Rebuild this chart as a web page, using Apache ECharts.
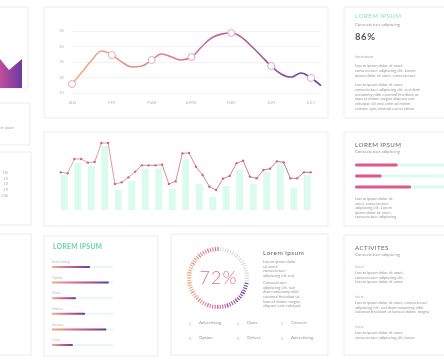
<!DOCTYPE html>
<html><head><meta charset="utf-8">
<script src="https://cdn.jsdelivr.net/npm/echarts@6/dist/echarts.min.js"></script>
<style>html,body{margin:0;padding:0;background:#fff}#c{width:444px;height:360px}</style>
</head><body><div id="c"></div>
<script>
// ---- data ----
const monthLabels = ['JAN','FEV','MAR','APRIL','MAY','JUN','JULY'];
const stepsPerMonth = 4;
// curve samples read every quarter month (JAN ... JULY, plus a short tail)
const lineValues = [15.8,23.5,31.3,37.1,34.5,30,26.8,27.4,31.3,35.2,33.2,31.3,33.2,39.7,45.5,48,48.7,46.1,40.3,33.9,27.4,22.3,20.3,22.9,19.7,14.8];
const barValues = [105,142,133,192,60,87,125,125,62,152,78,40,72,120,78,115,140,67,105];
const barLineValues = [113,110,153,153,142,144,201,201,78,83,98,115,134,134,134,136,78,86,170,171,130,105,70,60,94,102,140,148,100,95,120,124,146,143,95,95,113,113];
const progressLabels = ['Advertising','Option','Done','Orders','Income','Level'];
const progressValues = [62,93,39,54,89,34];
const skillValues = [48,30,63];
const gaugeValue = 72;
const legendItems = ['Advertising','Done','Convert','Option','Orders','Advertising'];
const sideNumbers = ['1%','25','32','19','23k'];

const FONT = 'Lato, "Open Sans", sans-serif';
const chart = echarts.init(document.getElementById('c'), null, {renderer:'canvas'});
const G = echarts.graphic;
const sp = s => s.split('').join('\u200A');

const lineCats = lineValues.map((_,i)=> i%stepsPerMonth===0 ? (monthLabels[i/stepsPerMonth]||'') : '');

const gfx = [];
function panel(x,y,w,h){ gfx.push({type:'rect', z:-5, shape:{x,y,width:w,height:h}, style:{fill:'none', stroke:'#ececec', lineWidth:1}}); }
function txt(x,y,text,size,color,extra){ gfx.push({type:'text', z:50, x, y, style:Object.assign({text, fontSize:size, fontFamily:FONT, fill:color, verticalAlign:'middle', align:'left'}, extra||{})}); }
function para(x,y,lines,size,lh,color,align){ gfx.push({type:'text', z:50, x, y:y-lh/2, style:{text:lines.join('\n'), fontSize:size, lineHeight:lh, fontFamily:FONT, fill:color, verticalAlign:'top', align:align||'left'}}); }

// panels
panel(-2,7,30,81); panel(-2,103,32,42); panel(-2,152,33,73); panel(-2,234,33,121);
panel(44,7,284,111); panel(44,132,284,94);
panel(344,7,110,111); panel(344,132,110,94); panel(344,235,110,120);
panel(44,236,114,120); panel(171,234,157,121);

// left decorative shape
gfx.push({type:'polygon', z:1, shape:{points:[[0,59],[9,70],[22,59],[22,88],[0,88]]},
  style:{fill:new G.LinearGradient(0,0,1,0,[{offset:0,color:'#c24b9e'},{offset:1,color:'#6a3aa0'}])}});
txt(14,128,'lorem ipsum',3.5,'#aaa',{align:'right'});
para(8,173,sideNumbers,4,5.6,'#aaa','right');

// right panel 1
txt(355,16,sp('LOREM IPSUM'),6.2,'#86dcc2');
txt(355,25,'Consectetuer adipiscing',4.3,'#999');
txt(355,37,sp('86%'),9.5,'#555',{fontWeight:'bold'});
txt(355,57,'lorem ipsum',3.4,'#aaa');
para(355,66,['Lorem ipsum dolor sit amet,','consectetuer adipiscing elit. Lorem','ipsum dolor sit amet, consectetuer'],4,4.7,'#999');
para(355,85,['Lorem ipsum dolor sit amet,','consectetuer adipiscing elit, sed diam','nonummy nibh euismod tincidunt ut','laoreet dolore magna aliquam erat','volutpat. Ut wisi enim ad minim','veniam, quis nostrud exerci tation'],4,4.7,'#999');

// right panel 2
txt(355,145,sp('LOREM IPSUM'),6.2,'#666');
txt(355,151.5,'Consectetuer adipiscing',4.3,'#999');
para(355,199,['Lorem ipsum dolor sit','amet, consectetuer','adipiscing elit. Lorem','ipsum dolor sit amet,','consectetuer adipiscing'],4,4.5,'#999');

// right panel 3
txt(355,248,sp('ACTIVITES'),6.2,'#666');
txt(355,254.5,'Consectetuer adipiscing',4.3,'#999');
txt(355,267,'lorem',3.4,'#f19ab5');
para(355,273,['Lorem ipsum dolor sit amet,','consectetuer adipiscing elit,','Lorem ipsum dolor sit amet.'],4,4.5,'#999');
txt(355,297,'lorem',3.4,'#f19ab5');
para(355,303,['Lorem ipsum dolor sit amet, consectetuer','adipiscing elit, sed diam nonummy nibh','euismod tincidunt ut laoreet dolore magna'],4,4.5,'#999');
txt(355,327,'lorem',3.4,'#f19ab5');
para(355,333,['Lorem ipsum dolor sit amet,','consectetuer adipiscing elit, lorem'],4,4.5,'#999');

// bottom-left panel
txt(53,247,sp('LOREM IPSUM'),6.5,'#5fd3ac',{fontWeight:'bold'});

// center panel
txt(263,253,sp('Lorem ipsum'),6.5,'#666');
para(263,262,['Lorem ipsum dolor','sit amet,','consectetuer','adipiscing elit sed'],4,4.6,'#999');
para(263,283,['Consectetuer','adipiscing elit, sed','diam nonummy nibh','euismod tincidunt ut','laoreet dolore magna','aliquam erat volutpat.'],4,4.6,'#999');
const legX = [189, 237, 281];
legendItems.forEach((name,i)=>{
  const col = i%3, row = Math.floor(i/3);
  const y = row===0 ? 323 : 338;
  txt(legX[col],y,'»',5.5,'#6fd8b5');
  txt(legX[col]+10,y,name,4.5,'#999');
});

const lineGrad = new G.LinearGradient(0,0,1,0,[{offset:0,color:'#f4b07a'},{offset:0.5,color:'#d66f9d'},{offset:1,color:'#6c3f9c'}]);
const barFillGrad = new G.LinearGradient(0,0,1,0,[{offset:0,color:'#f2b27c'},{offset:0.45,color:'#d9609c'},{offset:1,color:'#6a3d98'}]);
const ringGrad = new G.LinearGradient(187,0,249,0,[{offset:0,color:'#f3b07a'},{offset:0.5,color:'#df5f9e'},{offset:1,color:'#5e3aa0'}],true);

const isMonth = (i)=> i%stepsPerMonth===0 && i/stepsPerMonth < monthLabels.length;

const option = {
  backgroundColor:'#fff',
  animation:false,
  graphic: gfx,
  grid:[
    {left:72, width:(lineValues.length-1)*(239/24), top:31, height:62},
    {left:57.5, width:256.5, top:130, height:80},
    {left:52, width:61, top:259.2, height:93.6},
    {left:355, width:110, top:159.5, height:33}
  ],
  xAxis:[
    {gridIndex:0, type:'category', data:lineCats, boundaryGap:false,
     axisLine:{show:false}, axisTick:{show:false},
     axisLabel:{interval:0, fontSize:4.2, color:'#bbb', margin:8, fontFamily:FONT}},
    {gridIndex:1, type:'category', data:barValues.map((_,i)=>String(i+1)), show:false},
    {gridIndex:1, type:'category', data:barLineValues.map((_,i)=>String(i+1)), show:false},
    {gridIndex:2, type:'value', min:0, max:100, show:false},
    {gridIndex:3, type:'value', min:0, max:100, show:false}
  ],
  yAxis:[
    {gridIndex:0, type:'value', min:10, max:50, interval:10,
     axisLine:{show:false}, axisTick:{show:false},
     splitLine:{lineStyle:{color:'#f3f3f3', width:1}},
     axisLabel:{fontSize:4.2, color:'#bbb', margin:8, fontFamily:FONT}},
    {gridIndex:1, type:'value', min:0, max:240, show:false},
    {gridIndex:2, type:'category', data:progressLabels, inverse:true, show:false},
    {gridIndex:3, type:'category', data:skillValues.map((_,i)=>String(i)), inverse:true, show:false}
  ],
  series:[
    {type:'line', xAxisIndex:0, yAxisIndex:0, data:lineValues, smooth:0.4,
     showAllSymbol:true,
     symbol:(v,p)=> isMonth(p.dataIndex) ? 'circle' : 'none', symbolSize:7,
     lineStyle:{width:1.6, color:lineGrad},
     itemStyle:{color:'#fff', borderColor:'#e4a6c4', borderWidth:1}, z:5},
    {type:'bar', xAxisIndex:1, yAxisIndex:1, data:barValues, barWidth:7,
     itemStyle:{color:'#dcfbef'}},
    {type:'line', xAxisIndex:2, yAxisIndex:1, data:barLineValues,
     symbol:'circle', symbolSize:2.4,
     lineStyle:{width:0.9, color:new G.LinearGradient(0,0,1,0,[{offset:0,color:'#ee9a86'},{offset:1,color:'#b8638f'}])},
     itemStyle:{color:'#c86880'}, z:5},
    {type:'bar', xAxisIndex:3, yAxisIndex:2, data:progressValues, barWidth:2,
     showBackground:true, backgroundStyle:{color:'#e3faf2'},
     itemStyle:{color:barFillGrad},
     label:{show:true, position:[0,-6], formatter:'{b}', fontSize:3.6, color:'#bbb', fontFamily:FONT}},
    {type:'bar', xAxisIndex:4, yAxisIndex:3, data:skillValues, barWidth:3,
     showBackground:true, backgroundStyle:{color:'#dcfaf0'},
     itemStyle:{color:'#e2588b', borderRadius:1.5}},
    {type:'gauge', center:[218,278], radius:31, startAngle:90, endAngle:-10.8,
     min:0, max:100, splitNumber:5,
     axisLine:{show:false, lineStyle:{width:0}}, splitLine:{show:false}, axisLabel:{show:false},
     pointer:{show:false}, anchor:{show:false}, title:{show:false}, detail:{show:false},
     axisTick:{show:true, splitNumber:4, distance:0, length:4, lineStyle:{color:'#dcdcdc', width:1.1}},
     data:[{value:0}]},
    {type:'gauge', center:[218,278], radius:31, startAngle:90+gaugeValue*3.6, endAngle:90,
     min:0, max:100, splitNumber:13,
     axisLine:{show:false, lineStyle:{width:0}}, splitLine:{show:false}, axisLabel:{show:false},
     pointer:{show:false}, anchor:{show:false}, title:{show:false},
     axisTick:{show:true, splitNumber:4, distance:0, length:4, lineStyle:{color:ringGrad, width:1.1}},
     detail:{show:true, offsetCenter:[0,0], formatter:v=>sp(v+'%'), fontSize:18, fontWeight:300, color:'#d9739a', fontFamily:FONT},
     data:[{value:gaugeValue}]}
  ]
};
chart.setOption(option);
</script></body></html>
